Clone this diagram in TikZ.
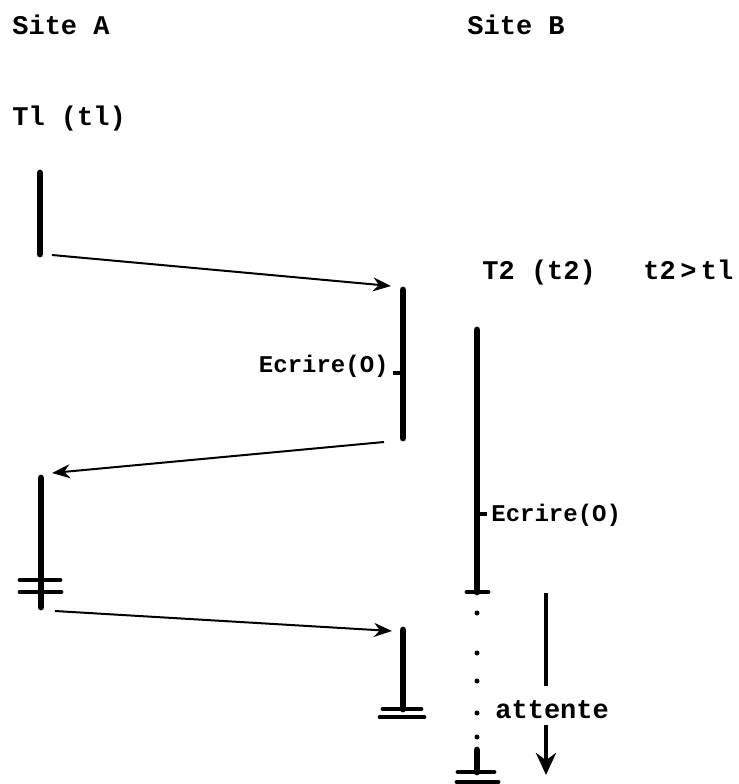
\documentclass[tikz,border=0pt]{standalone}
\usepackage{fontspec}
\setmonofont{Liberation Mono}
\usetikzlibrary{arrows.meta,positioning}

\begin{document}
\begin{tikzpicture}[x=0.5pt,y=-0.5pt,
    lab/.style={font=\ttfamily\bfseries\fontsize{13.5}{16}\selectfont, anchor=base west, inner sep=0pt},
    op/.style={font=\ttfamily\bfseries\fontsize{12}{14}\selectfont, inner sep=0pt},
    life/.style={line width=3.4pt, line cap=round},
    msg/.style={line width=1pt, -{Stealth[length=9pt,width=7pt]}},
    fin/.style={line width=2.4pt, line cap=round}]
    \useasboundingbox (0,0) rectangle (739,784);
    % titres
    \node[lab] (siteA) at (12,34) {Site A};
    \node[lab] (siteB) at (467,34) {Site B};
    \node[lab] (tA) at (12,125) {Tl (tl)};
    \node[lab] (tB) at (482,279) {T2 (t2)};
    \node[lab] (cond) at (643,279) {t2\,>\,tl};
    % T1 sur le site A
    \coordinate (a1s) at (40,173);
    \coordinate (a1e) at (40,254);
    \draw[life] (a1s) -- (a1e);
    \coordinate (m1s) at (52,255);
    \coordinate (m1e) at (391,286);
    \draw[msg] (m1s) -- (m1e);
    % T1 sur le site B
    \coordinate (b1s) at (403,290);
    \coordinate (b1e) at (403,438);
    \coordinate (b1w) at (403,373);
    \draw[life] (b1s) -- (b1e);
    \draw[line width=2pt] (b1w) -- ++(-10,0) coordinate (b1t);
    \node[op, anchor=base east] (ecrA) at (389,372) {Ecrire(O)};
    \coordinate (m2s) at (384,442);
    \coordinate (m2e) at (52,473);
    \draw[msg] (m2s) -- (m2e);
    % retour sur A, validation
    \coordinate (a2s) at (41,478);
    \coordinate (a2e) at (41,607);
    \draw[life] (a2s) -- (a2e);
    \draw[fin] (20,580) -- (60,580);
    \draw[fin] (20,592) -- (61,592);
    \coordinate (m3s) at (55,611);
    \coordinate (m3e) at (392,631);
    \draw[msg] (m3s) -- (m3e);
    \coordinate (b3s) at (403,630);
    \coordinate (b3e) at (403,709);
    \draw[life] (b3s) -- (b3e);
    \draw[fin] (383,709) -- (421,709);
    \draw[fin] (380,717) -- (424,717);
    % T2 sur le site B
    \coordinate (b2s) at (477,330);
    \coordinate (b2e) at (477,592);
    \coordinate (b2w) at (477,514);
    \draw[life] (b2s) -- (b2e);
    \draw[line width=2pt] (b2w) -- ++(10,0);
    \draw[fin] (467,592) -- (488,592);
    \node[op, anchor=base west] (ecrB) at (491,521) {Ecrire(O)};
    \foreach \y in {613,653,681,713,737}
        \fill (477,\y) circle (2.5);
    \coordinate (b4s) at (477,750);
    \coordinate (b4e) at (477,772);
    \draw[life] (b4s) -- (b4e);
    \draw[fin] (458,772) -- (494,772);
    \draw[fin] (457,782) -- (498,782);
    % attente
    \node[lab] (att) at (495,718) {attente};
    \coordinate (w1) at (546,593);
    \coordinate (w2) at (546,686);
    \coordinate (w3) at (546,725);
    \coordinate (w4) at (546,775);
    \draw[line width=2pt] (w1) -- (w2);
    \draw[line width=2pt, -{Stealth[length=11pt,width=10pt]}] (w3) -- (w4);
\end{tikzpicture}
\end{document}
